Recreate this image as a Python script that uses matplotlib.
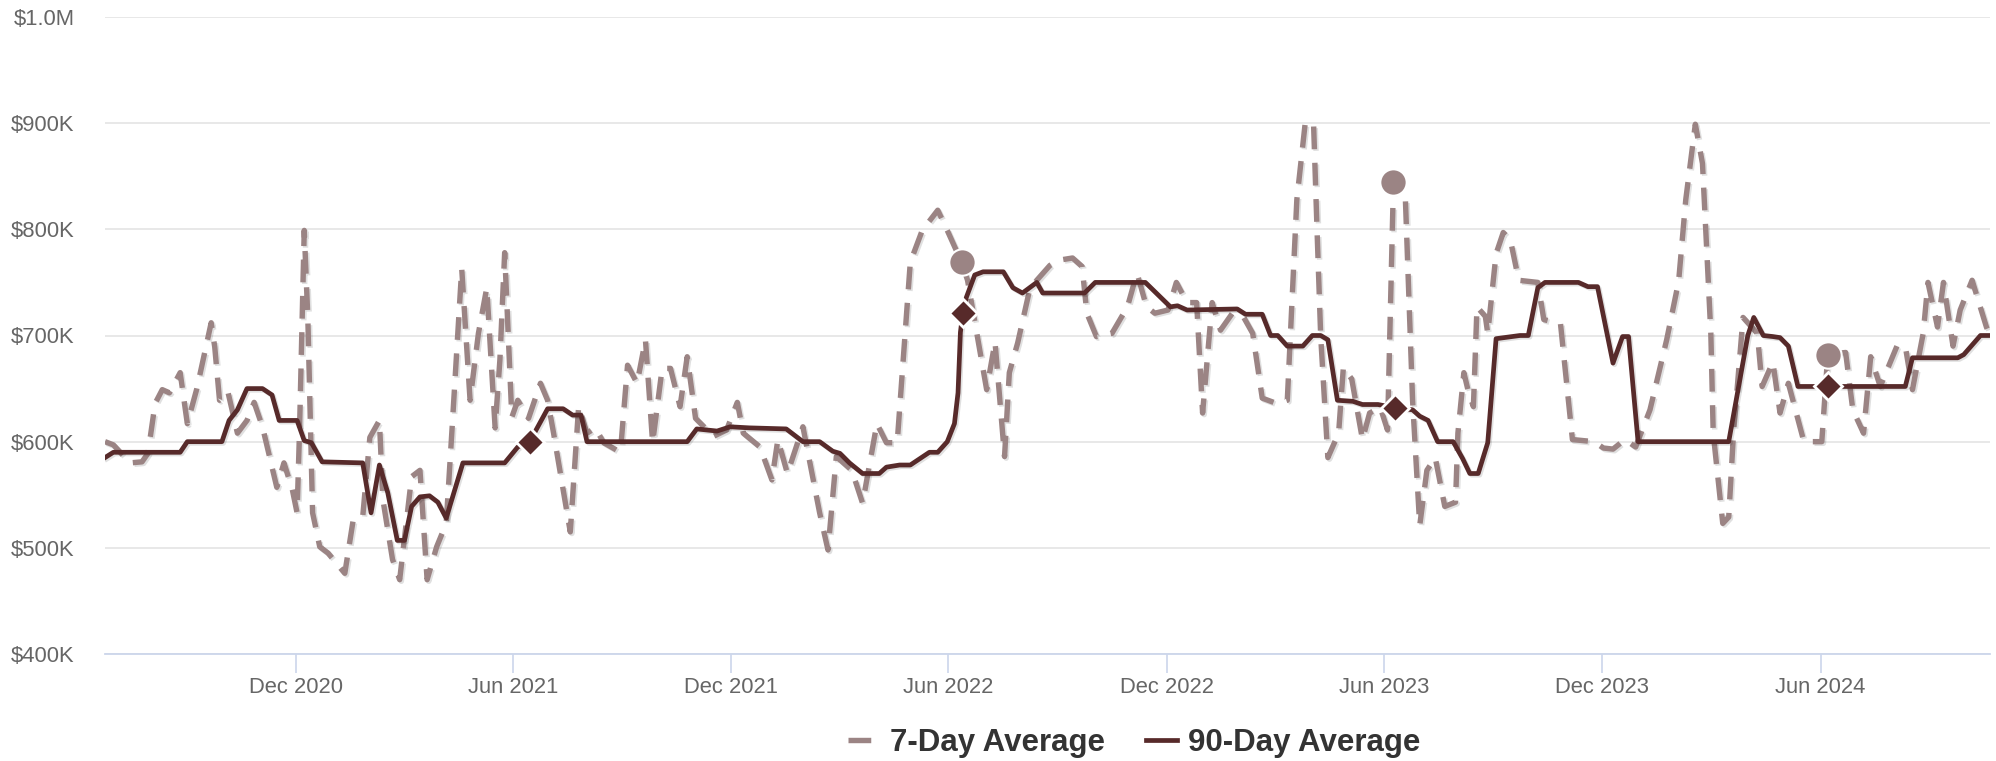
import matplotlib
matplotlib.use("Agg")
import matplotlib.pyplot as plt
import matplotlib.patheffects as pe
from matplotlib.lines import Line2D
import pandas as pd

plt.rcParams['font.family'] = ['Liberation Sans', 'DejaVu Sans']

# ---------------- data (values in $K) ----------------
d90 = ["2020-06-24","2020-07-01","2020-08-26","2020-09-01","2020-09-30","2020-10-06","2020-10-13","2020-10-21",
       "2020-11-03","2020-11-11","2020-11-17","2020-12-02","2020-12-08","2020-12-14","2020-12-23","2021-01-26",
       "2021-02-02","2021-02-09","2021-02-16","2021-02-24","2021-03-02","2021-03-08","2021-03-15","2021-03-23",
       "2021-03-30","2021-04-06","2021-04-20","2021-05-25","2021-06-05","2021-06-15","2021-06-30","2021-07-13",
       "2021-07-21","2021-07-28","2021-08-02","2021-10-25","2021-11-02","2021-11-19","2021-11-30","2021-12-16",
       "2022-01-16","2022-01-30","2022-02-13","2022-02-24","2022-03-02","2022-03-10","2022-03-21","2022-04-04",
       "2022-04-10","2022-04-21","2022-04-30","2022-05-08","2022-05-16","2022-05-23","2022-05-31","2022-06-06",
       "2022-06-09","2022-06-11","2022-06-13","2022-06-16","2022-06-23","2022-06-30","2022-07-17","2022-07-25",
       "2022-08-02","2022-08-14","2022-08-19","2022-09-23","2022-10-02","2022-11-13","2022-12-04","2022-12-10",
       "2022-12-18","2023-01-29","2023-02-05","2023-02-19","2023-02-26","2023-03-04","2023-03-12","2023-03-25",
       "2023-04-02","2023-04-09","2023-04-15","2023-04-23","2023-05-06","2023-05-14","2023-05-27","2023-06-10",
       "2023-06-25","2023-07-01","2023-07-08","2023-07-16","2023-07-29","2023-08-06","2023-08-12","2023-08-19",
       "2023-08-27","2023-09-03","2023-09-23","2023-09-30","2023-10-08","2023-10-14","2023-11-11","2023-11-19",
       "2023-11-27","2023-12-10","2023-12-18","2023-12-23","2023-12-31","2024-03-16","2024-04-01","2024-04-06",
       "2024-04-14","2024-04-22","2024-04-28","2024-05-05","2024-05-13","2024-06-07","2024-08-11","2024-08-17",
       "2024-09-24","2024-09-29","2024-10-13","2024-10-21"]
v90 = [585,590,590,600,600,620,630,650,650,644,620,620,601,599,581,580,533,578,552,507,507,539,548,549,543,
       528,580,580,595,600,631,631,625,625,600,600,612,610,614,613,612,600,600,591,589,580,570,570,576,578,
       578,584,590,590,600,617,646,703,721,736,757,760,760,745,740,750,740,740,750,750,727,728,724,725,720,
       720,700,700,690,690,700,700,696,639,638,635,635,632,630,624,620,600,600,584,570,570,599,697,700,700,
       745,750,750,746,746,674,699,699,600,600,700,717,700,699,698,690,652,652,652,679,679,682,700,700]

d7 = ["2020-06-24","2020-07-01","2020-07-15","2020-07-25","2020-07-30","2020-08-05","2020-08-11","2020-08-17",
      "2020-08-26","2020-09-01","2020-09-09","2020-09-21","2020-09-24","2020-09-28","2020-10-05","2020-10-13",
      "2020-10-21","2020-10-27","2020-11-03","2020-11-15","2020-11-21","2020-11-28","2020-12-02","2020-12-04",
      "2020-12-08","2020-12-11","2020-12-15","2020-12-21","2020-12-28","2021-01-11","2021-01-18","2021-01-26",
      "2021-02-01","2021-02-09","2021-02-12","2021-02-20","2021-02-26","2021-03-08","2021-03-15","2021-03-21",
      "2021-03-29","2021-04-06","2021-04-11","2021-04-19","2021-04-26","2021-05-03","2021-05-10","2021-05-17",
      "2021-05-21","2021-05-25","2021-05-31","2021-06-05","2021-06-14","2021-06-24","2021-06-30","2021-07-05",
      "2021-07-19","2021-07-26","2021-08-02","2021-08-09","2021-08-16","2021-08-30","2021-09-05","2021-09-13",
      "2021-09-20","2021-09-26","2021-10-04","2021-10-11","2021-10-19","2021-10-25","2021-11-01","2021-11-16",
      "2021-11-27","2021-12-06","2021-12-11","2021-12-25","2022-01-04","2022-01-09","2022-01-17","2022-01-30",
      "2022-02-13","2022-02-20","2022-02-27","2022-03-12","2022-03-21","2022-04-02","2022-04-10","2022-04-19",
      "2022-04-30","2022-05-10","2022-05-23","2022-05-31","2022-06-12","2022-06-17","2022-07-03","2022-07-10",
      "2022-07-18","2022-07-22","2022-07-29","2022-08-08","2022-08-14","2022-08-25","2022-09-02","2022-09-13",
      "2022-09-21","2022-09-25","2022-10-03","2022-10-16","2022-10-29","2022-11-06","2022-11-14","2022-11-21",
      "2022-12-02","2022-12-09","2022-12-18","2022-12-26","2022-12-31","2023-01-08","2023-01-15","2023-01-25",
      "2023-02-03","2023-02-11","2023-02-19","2023-03-03","2023-03-12","2023-03-20","2023-03-27","2023-04-03",
      "2023-04-06","2023-04-09","2023-04-15","2023-04-24","2023-04-28","2023-05-05","2023-05-14","2023-05-20",
      "2023-05-29","2023-06-04","2023-06-09","2023-06-19","2023-06-25","2023-07-01","2023-07-07","2023-07-14",
      "2023-07-22","2023-07-31","2023-08-02","2023-08-07","2023-08-11","2023-08-15","2023-08-18","2023-08-25",
      "2023-08-27","2023-09-03","2023-09-09","2023-09-15","2023-09-22","2023-10-08","2023-10-13","2023-10-27",
      "2023-11-06","2023-11-24","2023-12-02","2023-12-10","2023-12-20","2023-12-29","2024-01-10","2024-01-24",
      "2024-02-03","2024-02-09","2024-02-17","2024-02-23","2024-03-01","2024-03-03","2024-03-11","2024-03-16",
      "2024-03-20","2024-03-28","2024-04-09","2024-04-13","2024-04-22","2024-04-28","2024-05-05","2024-05-18",
      "2024-06-02","2024-06-07","2024-06-22","2024-06-28","2024-07-07","2024-07-13","2024-07-21","2024-08-04",
      "2024-08-11","2024-08-17","2024-08-26","2024-08-30","2024-09-07","2024-09-12","2024-09-20","2024-09-26",
      "2024-10-06","2024-10-18","2024-10-21"]
v7 = [600,597,580,581,589,636,649,646,665,617,650,712,689,639,647,608,620,637,614,557,580,555,533,608,
      799,717,533,501,495,476,526,529,604,620,545,489,470,567,573,470,501,523,614,763,639,702,745,613,
      677,778,623,639,622,655,639,608,515,633,608,613,599,590,672,655,696,599,669,669,633,680,622,605,
      611,637,608,595,564,602,570,614,533,498,586,573,542,617,599,599,769,799,818,799,769,752,649,694,
      586,665,693,743,752,766,771,773,765,721,699,702,727,759,727,721,724,750,731,731,627,731,705,721,
      718,702,641,636,639,828,900,900,797,699,585,608,670,659,602,627,632,611,845,828,639,521,573,585,
      539,543,608,665,646,633,727,718,702,777,797,790,752,750,715,711,602,600,594,593,602,595,630,696,
      751,828,899,862,702,608,523,529,608,717,702,652,675,627,655,600,600,682,684,630,608,680,652,690,
      690,649,702,750,708,750,690,724,752,708,700]

marker90_dates = ["2021-06-15", "2022-06-13", "2023-06-10", "2024-06-07"]
marker90_vals = [600, 721, 632, 652]
marker7_dates = ["2022-06-12", "2023-06-09", "2024-06-07"]
marker7_vals = [769, 845, 682]

y_ticks = [400, 500, 600, 700, 800, 900, 1000]
y_labels = ["$400K", "$500K", "$600K", "$700K", "$800K", "$900K", "$1.0M"]
x_ticks = ["2020-12-01", "2021-06-01", "2021-12-01", "2022-06-01", "2022-12-01",
           "2023-06-01", "2023-12-01", "2024-06-01"]
x_labels = ["Dec 2020", "Jun 2021", "Dec 2021", "Jun 2022", "Dec 2022",
            "Jun 2023", "Dec 2023", "Jun 2024"]
series_names = ["7-Day Average", "90-Day Average"]

# ---------------- style ----------------
C7 = "#9b8484"
C90 = "#572a2a"

W, H = 1996, 761
fig = plt.figure(figsize=(W / 100, H / 100), dpi=100)
ax = fig.add_axes([105 / W, 1 - 654 / H, (1990 - 105) / W, (654 - 17) / H])

shadow = [pe.SimpleLineShadow(offset=(1.2, -1.2), shadow_color="k", alpha=0.12), pe.Normal()]

ax.plot(pd.to_datetime(d7), v7, color=C7, lw=3.9, dashes=(4.2, 2.5),
        solid_capstyle="butt", dash_capstyle="butt", path_effects=shadow, zorder=3)
ax.plot(pd.to_datetime(d90), v90, color=C90, lw=3.4, solid_joinstyle="round",
        path_effects=shadow, zorder=4)

ax.plot(pd.to_datetime(marker90_dates), marker90_vals, ls="none", marker="D", ms=14,
        mfc=C90, mec="white", mew=2, zorder=6)
ax.plot(pd.to_datetime(marker7_dates), marker7_vals, ls="none", marker="o", ms=19,
        mfc=C7, mec="white", mew=1.5, zorder=6)

ax.set_xlim(pd.Timestamp("2020-06-24"), pd.Timestamp("2024-10-21"))
ax.set_ylim(400, 1000)

ax.set_yticks(y_ticks)
ax.set_yticklabels(y_labels)
ax.set_xticks(pd.to_datetime(x_ticks))
ax.set_xticklabels(x_labels)

ax.yaxis.grid(True, color="#e6e6e6", lw=1.3)
ax.set_axisbelow(True)
for s in ["top", "right", "left"]:
    ax.spines[s].set_visible(False)
ax.spines["bottom"].set_color("#ccd6eb")
ax.spines["bottom"].set_linewidth(1.3)
ax.spines["bottom"].set_zorder(1)

ax.tick_params(axis="y", length=0, pad=22, labelcolor="#666666", labelsize=15.8)
ax.tick_params(axis="x", length=13.5, width=1.2, color="#ccd6eb", direction="out",
               labelcolor="#666666", labelsize=15.8, pad=3)

handles = [
    Line2D([0], [0], color=C7, lw=3.9, dashes=(4.2, 2.5), dash_capstyle="butt"),
    Line2D([0], [0], color=C90, lw=3.4),
]
leg = fig.legend(handles, series_names, loc="center", bbox_to_anchor=(1134 / W, 1 - 743 / H),
                 ncol=2, frameon=False, prop={"weight": "bold", "size": 22.5},
                 handlelength=1.0, handletextpad=0.35, columnspacing=1.3)
for t in leg.get_texts():
    t.set_color("#333333")

fig.savefig("out.png", dpi=100, facecolor="white")
